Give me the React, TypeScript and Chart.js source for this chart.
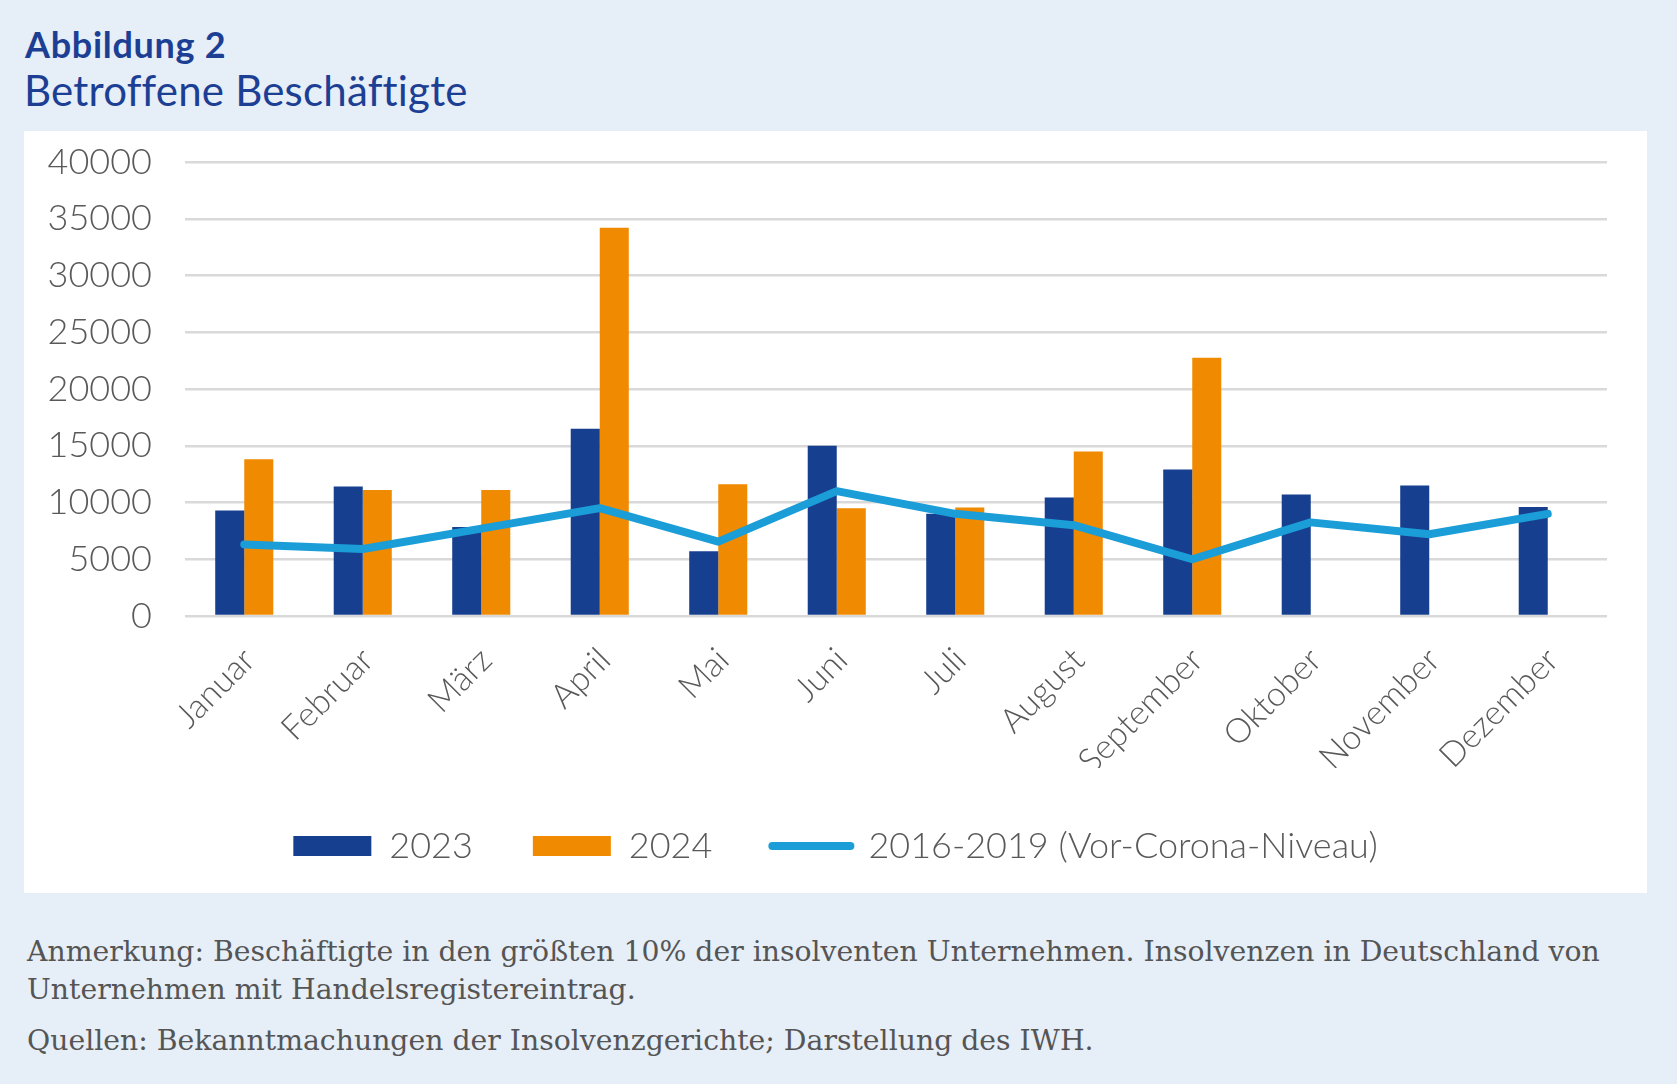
import React, { useEffect, useRef } from 'react';
import { Chart, registerables } from 'chart.js';

Chart.register(...registerables);

const categories = ['Januar', 'Februar', 'März', 'April', 'Mai', 'Juni', 'Juli', 'August', 'September', 'Oktober', 'November', 'Dezember'];
const series2023 = [9300, 11400, 7850, 16500, 5700, 15000, 9000, 10450, 12900, 10700, 11500, 9600];
const series2024 = [13800, 11100, 11100, 34200, 11600, 9500, 9550, 14500, 22750, null, null, null];
const seriesPreCorona = [6300, 5900, 7700, 9500, 6550, 11000, 9000, 8000, 5000, 8250, 7200, 9000];
const seriesLabels = ['2023', '2024', '2016-2019 (Vor-Corona-Niveau)'];
const yMin = 0;
const yMax = 40000;
const yStep = 5000;

const C2023 = '#173f8f';
const C2024 = '#f08a00';
const CLINE = '#1b9dd8';
const CGRID = '#d9d9d9';
const CTEXT = '#595959';
const BG = '#e6eef8';
const CHART_FONT = 'Lato, "Open Sans", sans-serif';

export default function App() {
  const ref = useRef<HTMLCanvasElement>(null);

  useEffect(() => {
    const canvas = ref.current;
    if (!canvas) return;
    const chart = new Chart(canvas, {
      type: 'bar',
      data: {
        labels: categories,
        datasets: [
          {
            type: 'bar',
            label: seriesLabels[0],
            data: series2023,
            backgroundColor: C2023,
            borderWidth: 0,
            categoryPercentage: 0.49,
            barPercentage: 1,
            order: 1,
          },
          {
            type: 'bar',
            label: seriesLabels[1],
            data: series2024,
            backgroundColor: C2024,
            borderWidth: 0,
            categoryPercentage: 0.49,
            barPercentage: 1,
            order: 1,
          },
          {
            type: 'line',
            label: seriesLabels[2],
            data: seriesPreCorona,
            borderColor: CLINE,
            backgroundColor: CLINE,
            borderWidth: 8,
            borderCapStyle: 'round',
            borderJoinStyle: 'round',
            pointRadius: 0,
            pointHoverRadius: 0,
            tension: 0,
            fill: false,
            order: 0,
          },
        ] as any,
      },
      options: {
        responsive: false,
        animation: false,
        layout: { padding: { left: 0, right: 0, top: 31, bottom: 0 } },
        scales: {
          x: {
            grid: { display: false, drawTicks: false },
            border: { display: false },
            ticks: {
              color: CTEXT,
              font: { family: CHART_FONT, size: 34, weight: '300' },
              maxRotation: 45,
              minRotation: 45,
              padding: 24,
              labelOffset: 5,
              autoSkip: false,
            },
            afterFit: (s: any) => {
              s.height = 152;
              s.paddingRight = 40;
            },
          },
          y: {
            min: yMin,
            max: yMax,
            ticks: {
              stepSize: yStep,
              color: CTEXT,
              font: { family: CHART_FONT, size: 36, weight: '300' },
              padding: 0,
              callback: (v: any) => String(v),
            },
            grid: { color: CGRID, lineWidth: 2.5, drawTicks: true, tickLength: 33, tickColor: 'rgba(0,0,0,0)' },
            border: { display: false },
            afterFit: (s: any) => {
              s.width = 161;
            },
          },
        },
        plugins: {
          legend: {
            position: 'bottom',
            labels: {
              usePointStyle: true,
              pointStyleWidth: 78,
              boxHeight: 20,
              padding: 60,
              color: CTEXT,
              font: { family: CHART_FONT, size: 36, weight: '300' },
              sort: (a: any, b: any) => a.datasetIndex - b.datasetIndex,
              generateLabels: (ch: any) => {
                const items = (Chart.defaults.plugins.legend.labels as any).generateLabels(ch);
                return items.map((it: any) => {
                  const ds = ch.data.datasets[it.datasetIndex];
                  if (ds.type === 'line') {
                    return { ...it, pointStyle: 'line', strokeStyle: CLINE, fillStyle: CLINE, lineWidth: 8, lineCap: 'round' };
                  }
                  return { ...it, pointStyle: 'rect', fillStyle: ds.backgroundColor, strokeStyle: ds.backgroundColor, lineWidth: 0 };
                });
              },
            },
          },
          tooltip: { enabled: false },
        },
      } as any,
    });
    return () => chart.destroy();
  }, []);

  return (
    <div style={{ position: 'absolute', left: 0, top: 0, width: 1677, height: 1084, background: BG, overflow: 'hidden' }}>
      <div style={{ position: 'absolute', left: 25, top: 22, fontFamily: CHART_FONT, fontWeight: 700, fontSize: 36, letterSpacing: '0.7px', color: '#1c3f94', whiteSpace: 'nowrap' }}>
        Abbildung 2
      </div>
      <div style={{ position: 'absolute', left: 24, top: 65, fontFamily: CHART_FONT, fontWeight: 400, fontSize: 42, letterSpacing: '0.2px', color: '#1c3f94', whiteSpace: 'nowrap' }}>
        Betroffene Beschäftigte
      </div>
      <div style={{ position: 'absolute', left: 24, top: 131, width: 1623, height: 762, background: '#ffffff' }} />
      <canvas
        ref={ref}
        width={1623}
        height={743}
        style={{ position: 'absolute', left: 24, top: 131, width: 1623, height: 743 }}
      />
      <div style={{ position: 'absolute', left: 27, top: 933, fontFamily: '"DejaVu Serif", serif', fontSize: 28.3, lineHeight: '38px', color: '#555555', whiteSpace: 'nowrap' }}>
        Anmerkung: Beschäftigte in den größten 10% der insolventen Unternehmen. Insolvenzen in Deutschland von
        <br />
        Unternehmen mit Handelsregistereintrag.
      </div>
      <div style={{ position: 'absolute', left: 27, top: 1022, fontFamily: '"DejaVu Serif", serif', fontSize: 28.3, lineHeight: '38px', color: '#555555', whiteSpace: 'nowrap' }}>
        Quellen: Bekanntmachungen der Insolvenzgerichte; Darstellung des IWH.
      </div>
    </div>
  );
}
